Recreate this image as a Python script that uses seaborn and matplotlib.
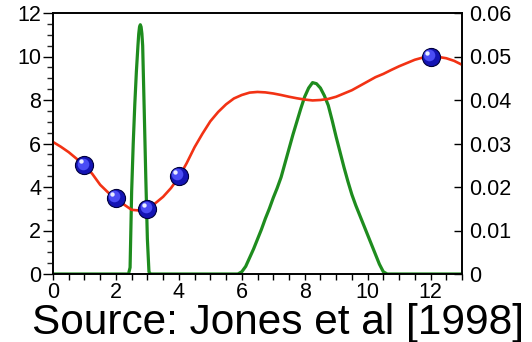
import numpy as np
import pandas as pd
import matplotlib.pyplot as plt
import matplotlib.transforms as mtransforms
from matplotlib.ticker import MultipleLocator
import seaborn as sns

# red fitted curve (left axis)
curve_x = [0, 0.25, 0.5, 0.75, 1.0, 1.25, 1.5, 1.75, 2.0, 2.25, 2.5, 2.75, 3.0, 3.25, 3.5,
           3.75, 4.0, 4.25, 4.5, 4.75, 5.0, 5.25, 5.5, 5.75, 6.0, 6.25, 6.5, 6.75, 7.0,
           7.25, 7.5, 7.75, 8.0, 8.25, 8.5, 8.75, 9.0, 9.25, 9.5, 9.75, 10.0, 10.25, 10.5,
           10.75, 11.0, 11.25, 11.5, 11.75, 12.0, 12.25, 12.5, 12.75, 13.0]
curve_y = [6.07, 5.85, 5.6, 5.3, 5.0, 4.6, 4.1, 3.75, 3.5, 3.2, 2.95, 2.92, 3.05, 3.25, 3.55,
           3.95, 4.45, 5.1, 5.83, 6.45, 7.02, 7.45, 7.8, 8.07, 8.23, 8.34, 8.37, 8.35, 8.3,
           8.23, 8.15, 8.08, 8.02, 7.98, 8.0, 8.05, 8.15, 8.3, 8.45, 8.65, 8.85, 9.05, 9.2,
           9.38, 9.55, 9.7, 9.85, 9.95, 10.0, 9.98, 9.92, 9.8, 9.62]

# observed points
obs_x = [1, 2, 3, 4, 12]
obs_y = [5, 3.5, 3, 4.5, 10]

# green density (right axis)
dens_x = [0, 2.4, 2.45, 2.5, 2.55, 2.6, 2.65, 2.7, 2.725, 2.75, 2.775, 2.8, 2.825, 2.85,
          2.9, 2.95, 3.0, 3.05, 3.1,
          5.875, 6.0, 6.125, 6.25, 6.375, 6.5, 6.625, 6.75, 6.875, 7.0, 7.125, 7.25, 7.375,
          7.5, 7.625, 7.75, 7.875, 8.0, 8.125, 8.25, 8.375, 8.5, 8.625, 8.75, 8.875, 9.0,
          9.125, 9.25, 9.375, 9.5, 9.625, 9.75, 9.875, 10.0, 10.125, 10.25, 10.375, 10.5,
          10.625, 13]
dens_y = [0, 0, 0.0015, 0.019, 0.030, 0.039, 0.0465, 0.0525, 0.0552, 0.0568, 0.0573,
          0.0568, 0.0553, 0.0525, 0.0375, 0.022, 0.008, 0.0005, 0,
          0, 0.0005, 0.00175, 0.00375, 0.00575, 0.008, 0.01025, 0.01275, 0.015, 0.0175,
          0.01975, 0.02225, 0.0255, 0.02875, 0.032, 0.035, 0.038, 0.04075, 0.04275, 0.044,
          0.04375, 0.04275, 0.041, 0.03875, 0.03525, 0.0315, 0.028, 0.0245, 0.02125,
          0.01825, 0.01575, 0.0135, 0.01125, 0.009, 0.00675, 0.0045, 0.00225, 0.0005, 0, 0]

sns.set_style('ticks')
plt.rcParams['font.family'] = ['Liberation Sans', 'DejaVu Sans']

fig = plt.figure(figsize=(5.32, 3.42), dpi=100)
ax = fig.add_axes([53 / 532, 68 / 342, 409 / 532, 261 / 342])
ax2 = ax.twinx()
ax.set_zorder(ax2.get_zorder() + 1)
ax.patch.set_visible(False)

sns.lineplot(x=dens_x, y=dens_y, ax=ax2, color='#1e8c1e', lw=2.3, estimator=None)
sns.lineplot(x=curve_x, y=curve_y, ax=ax, color='#f23214', lw=1.9, estimator=None)

# shaded balls
sns.scatterplot(x=obs_x, y=obs_y, ax=ax, s=170, color='#1414b4', edgecolor='#00003c',
                linewidth=0.8, zorder=5)
sc = ax.scatter(obs_x, obs_y, s=70, color='#4a4cf5', linewidth=0, zorder=6)
sc.set_offset_transform(ax.transData + mtransforms.ScaledTranslation(-1.2 / 72, 1.2 / 72, fig.dpi_scale_trans))
hl = ax.scatter(obs_x, obs_y, s=10, color='#e8ecff', linewidth=0, zorder=7)
hl.set_offset_transform(ax.transData + mtransforms.ScaledTranslation(-2.6 / 72, 2.8 / 72, fig.dpi_scale_trans))

ax.set_xlim(0, 13)
ax.set_ylim(0, 12)
ax2.set_ylim(0, 0.06)
ax.set_xticks([0, 2, 4, 6, 8, 10, 12])
ax.set_yticks([0, 2, 4, 6, 8, 10, 12])
ax.xaxis.set_minor_locator(MultipleLocator(0.5))
ax.yaxis.set_minor_locator(MultipleLocator(0.5))
ax2.set_yticks([0, 0.01, 0.02, 0.03, 0.04, 0.05, 0.06])
ax2.set_yticklabels(['0', '0.01', '0.02', '0.03', '0.04', '0.05', '0.06'])

for a in (ax, ax2):
    for s in a.spines.values():
        s.set_visible(True)
        s.set_color('black')
        s.set_linewidth(1.2)

ax.tick_params(axis='y', which='major', direction='out', length=7, width=1, pad=1.5,
               labelsize=15.5, colors='black', right=False)
ax.tick_params(axis='y', which='minor', direction='out', length=4, width=1, right=False)
ax.tick_params(axis='x', which='both', direction='out', length=4, width=1, pad=2,
               labelsize=15.5, colors='black', top=False)
ax2.tick_params(axis='y', which='major', direction='in', length=6, width=1, pad=5,
                labelsize=15.5, colors='black')
ax.set_xlabel('')
ax.set_ylabel('')
ax2.set_ylabel('')

fig.text(278 / 532, 8 / 342, 'Source: Jones et al [1998]', ha='center', va='baseline',
         fontsize=30.5, color='black')

fig.savefig('out.png', dpi=100)
